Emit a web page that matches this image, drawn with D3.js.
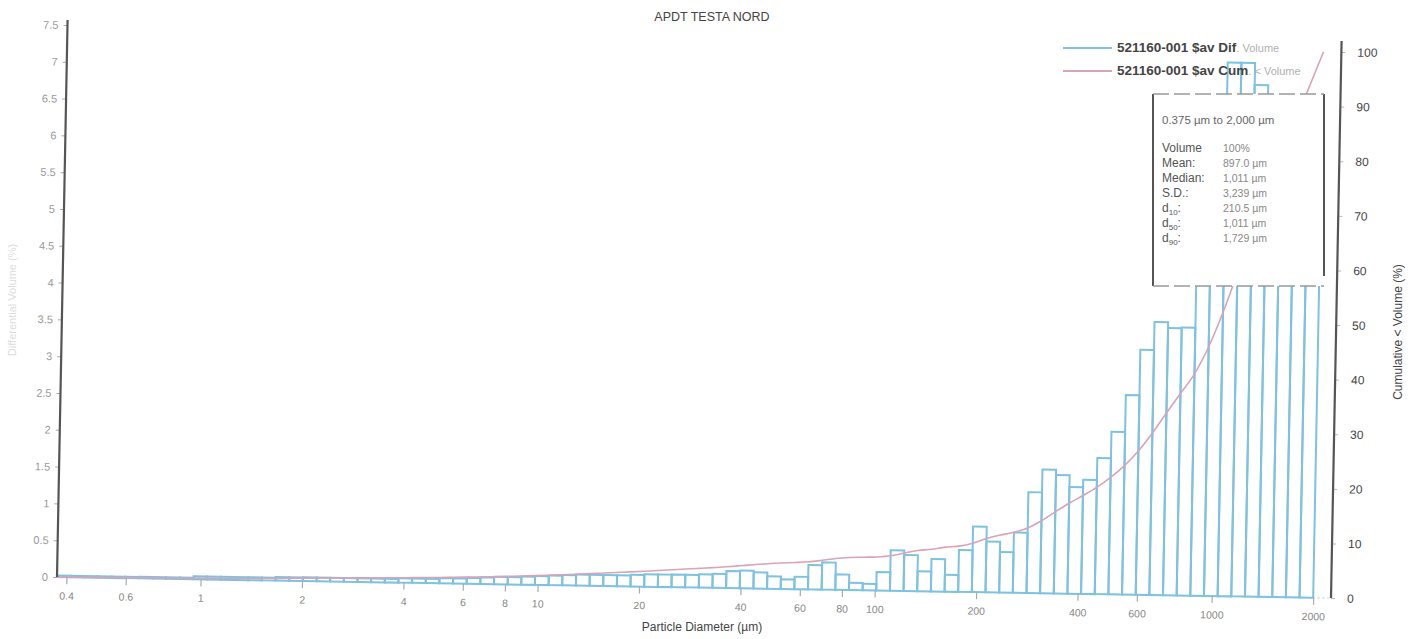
<!DOCTYPE html>
<html>
<head>
<meta charset="utf-8">
<script src="https://cdn.jsdelivr.net/npm/d3@7"></script>
<style>
  body { margin: 0; background: #ffffff; }
  svg { display: block; font-family: "Liberation Sans", Arial, sans-serif; }
</style>
</head>
<body>
<svg id="chart" width="1420" height="639"></svg>
<script>
// Size channels (µm): lower edges of the 92 channels plus the final upper edge
const channelEdges = [
  0.375, 0.412, 0.452, 0.496, 0.545, 0.598, 0.657, 0.721, 0.791, 0.869,
  0.953, 1.047, 1.149, 1.261, 1.385, 1.520, 1.669, 1.832, 2.011, 2.208,
  2.423, 2.660, 2.920, 3.206, 3.519, 3.863, 4.241, 4.656, 5.111, 5.611,
  6.159, 6.761, 7.422, 8.148, 8.944, 9.819, 10.78, 11.83, 12.99, 14.26,
  15.65, 17.18, 18.86, 20.71, 22.73, 24.95, 27.39, 30.07, 33.01, 36.24,
  39.78, 43.67, 47.94, 52.62, 57.77, 63.41, 69.61, 76.42, 83.89, 92.09,
  101.1, 111.0, 121.8, 133.7, 146.8, 161.2, 176.9, 194.2, 213.2, 234.1,
  256.9, 282.1, 309.6, 339.9, 373.1, 409.6, 449.7, 493.6, 541.9, 594.9,
  653.0, 716.8, 786.9, 863.9, 948.3, 1041, 1143, 1255, 1377, 1512,
  1660, 1822, 2000
];

// Differential volume (%) for each channel
const diffVolume = [
  0.02, 0.02, 0.02, 0.02, 0.02, 0.02, 0.02, 0.02, 0.02, 0.02,
  0.04, 0.04, 0.04, 0.04, 0.04, 0.04, 0.05, 0.05, 0.05, 0.05,
  0.05, 0.05, 0.05, 0.05, 0.05, 0.06, 0.06, 0.06, 0.07, 0.07,
  0.08, 0.09, 0.10, 0.10, 0.11, 0.12, 0.13, 0.14, 0.15, 0.15,
  0.15, 0.15, 0.16, 0.17, 0.17, 0.17, 0.17, 0.18, 0.19, 0.23,
  0.24, 0.22, 0.17, 0.13, 0.17, 0.33, 0.37, 0.21, 0.10, 0.09,
  0.25, 0.55, 0.49, 0.27, 0.44, 0.23, 0.57, 0.89, 0.69, 0.55,
  0.82, 1.37, 1.68, 1.61, 1.45, 1.55, 1.85, 2.21, 2.71, 3.33,
  3.71, 3.63, 3.64, 5.00, 6.30, 7.25, 7.25, 6.95, 6.80, 6.70,
  6.60, 6.50
];

const xTickValues = [0.4, 0.6, 1, 2, 4, 6, 8, 10, 20, 40, 60, 80, 100, 200, 400, 600, 1000, 2000];
const xTickLabels = ["0.4", "0.6", "1", "2", "4", "6", "8", "10", "20", "40", "60", "80", "100", "200", "400", "600", "1000", "2000"];
const leftTickValues = [0, 0.5, 1, 1.5, 2, 2.5, 3, 3.5, 4, 4.5, 5, 5.5, 6, 6.5, 7, 7.5];
const rightTickValues = [0, 10, 20, 30, 40, 50, 60, 70, 80, 90, 100];

const chartTitle = "APDT TESTA NORD";
const xTitle = "Particle Diameter (µm)";
const leftTitle = "Differential Volume (%)";
const rightTitle = "Cumulative < Volume (%)";
const legendIds = ["521160-001 $av Dif", "521160-001 $av Cum"];
const legendRest = [". Volume", ". < Volume"];

const statRange = "0.375 µm to 2,000 µm";
const statNames = [["Volume", ""], ["Mean:", ""], ["Median:", ""], ["S.D.:", ""], ["d", "10"], ["d", "50"], ["d", "90"]];
const statValues = ["100%", "897.0 µm", "1,011 µm", "3,239 µm", "210.5 µm", "1,011 µm", "1,729 µm"];

// ---- layout ----
const plot = { left: 57, right: 1331, top: 20, bottom: 577 };
const barColor = "#7dc2de";
const cumColor = "#d9a3b8";
const axisColor = "#555";

const svg = d3.select("#chart");

const x = d3.scaleLog().domain([0.375, 2259]).range([plot.left, plot.right]);
const yL = d3.scaleLinear().domain([0, 7.5]).range([plot.bottom, 25]);
const yR = d3.scaleLinear().domain([0, 100]).range([plot.bottom, 31]);

// the printed sheet sits slightly askew; the plot frame follows it
const frame = svg.append("g")
  .attr("transform", `translate(${plot.left},${plot.bottom}) matrix(1,0.0165,-0.019,1,0,0) translate(${-plot.left},${-plot.bottom})`);

// faint baseline
frame.append("line")
  .attr("x1", plot.left).attr("x2", plot.right)
  .attr("y1", plot.bottom).attr("y2", plot.bottom)
  .attr("stroke", "#dcdcdc").attr("stroke-width", 1.2)
  .attr("stroke-dasharray", "3,2");

// histogram bars
const bins = diffVolume.map((v, i) => ({ lo: channelEdges[i], hi: channelEdges[i + 1], v }));
frame.append("g").selectAll("rect").data(bins).join("rect")
  .attr("x", d => x(d.lo))
  .attr("width", d => x(d.hi) - x(d.lo))
  .attr("y", d => yL(d.v))
  .attr("height", d => plot.bottom - yL(d.v))
  .attr("fill", "none")
  .attr("stroke", barColor)
  .attr("stroke-width", 2);

// cumulative curve, accumulated channel by channel
const cum = Array.from(d3.cumsum(diffVolume));
const cumPts = [[channelEdges[0], 0]].concat(cum.map((c, i) => [channelEdges[i + 1], c]));
frame.append("path")
  .datum(cumPts)
  .attr("fill", "none")
  .attr("stroke", cumColor)
  .attr("stroke-width", 1.6)
  .attr("d", d3.line().x(d => x(d[0])).y(d => yR(d[1])).curve(d3.curveMonotoneX));

// x axis ticks & labels
const xAxis = d3.axisBottom(x).tickValues(xTickValues)
  .tickFormat((d, i) => xTickLabels[i]).tickSizeInner(7).tickSizeOuter(0).tickPadding(8);
const gx = frame.append("g").attr("transform", `translate(0,${plot.bottom})`).call(xAxis);
gx.select(".domain").remove();
gx.selectAll(".tick line").attr("stroke", "#aaa").attr("stroke-width", 1.2);
gx.selectAll(".tick text").attr("fill", "#888").attr("font-size", 10.5);

// left axis
const leftAxis = d3.axisLeft(yL).tickValues(leftTickValues)
  .tickFormat(d3.format("~g")).tickSizeInner(4).tickSizeOuter(0).tickPadding(5);
const gl = frame.append("g").attr("transform", `translate(${plot.left},0)`).call(leftAxis);
gl.select(".domain").remove();
gl.selectAll(".tick line").attr("stroke", "#aaa");
gl.selectAll(".tick text").attr("fill", "#999").attr("font-size", 11);
frame.append("line")
  .attr("x1", plot.left).attr("x2", plot.left)
  .attr("y1", plot.top).attr("y2", plot.bottom)
  .attr("stroke", axisColor).attr("stroke-width", 2.2);

// right axis
const rightAxis = d3.axisRight(yR).tickValues(rightTickValues)
  .tickFormat(d3.format("d")).tickSizeInner(4).tickSizeOuter(0).tickPadding(12);
const gr = frame.append("g").attr("transform", `translate(${plot.right},0)`).call(rightAxis);
gr.select(".domain").remove();
gr.selectAll(".tick line").attr("stroke", "#bbb");
gr.selectAll(".tick text").attr("fill", "#444").attr("font-size", 12);
frame.append("line")
  .attr("x1", plot.right).attr("x2", plot.right)
  .attr("y1", plot.top).attr("y2", plot.bottom)
  .attr("stroke", axisColor).attr("stroke-width", 2.2);

// statistics panel
const box = { x: 1153, y: 94, w: 171, h: 192 };
svg.append("rect")
  .attr("x", box.x).attr("y", box.y).attr("width", box.w).attr("height", box.h)
  .attr("fill", "#fff").attr("stroke", "none");
svg.append("line").attr("x1", box.x).attr("x2", box.x).attr("y1", box.y).attr("y2", box.y + box.h)
  .attr("stroke", axisColor).attr("stroke-width", 2);
svg.append("line").attr("x1", box.x + box.w).attr("x2", box.x + box.w).attr("y1", box.y).attr("y2", box.y + box.h - 10)
  .attr("stroke", axisColor).attr("stroke-width", 2);
[box.y, box.y + box.h].forEach(yy => {
  svg.append("line").attr("x1", box.x).attr("x2", box.x + box.w).attr("y1", yy).attr("y2", yy)
    .attr("stroke", "#999").attr("stroke-width", 1.4).attr("stroke-dasharray", "16,5");
});
svg.append("text").attr("x", box.x + 9).attr("y", box.y + 30)
  .attr("font-size", 11.5).attr("fill", "#666").text(statRange);
const rowY0 = box.y + 58, rowStep = 15;
statNames.forEach((nm, i) => {
  const t = svg.append("text").attr("x", box.x + 9).attr("y", rowY0 + i * rowStep)
    .attr("font-size", 12).attr("fill", "#555");
  t.append("tspan").text(nm[0]);
  if (nm[1]) {
    t.append("tspan").attr("font-size", 8).attr("dy", 3).text(nm[1]);
    t.append("tspan").attr("dy", -3).text(":");
  }
  svg.append("text").attr("x", box.x + 70).attr("y", rowY0 + i * rowStep)
    .attr("font-size", 10.5).attr("fill", "#888").text(statValues[i]);
});

// legend
const legendColors = [barColor, cumColor];
legendIds.forEach((lab, i) => {
  const yy = 48 + i * 23;
  svg.append("line").attr("x1", 1063).attr("x2", 1112).attr("y1", yy).attr("y2", yy)
    .attr("stroke", legendColors[i]).attr("stroke-width", 2.2);
  const t = svg.append("text").attr("x", 1117).attr("y", yy + 4).attr("font-size", 13.5)
    .attr("font-weight", "bold");
  t.append("tspan").attr("fill", "#444").text(lab);
  t.append("tspan").attr("fill", "#b0b0b0").attr("font-weight", "normal").attr("font-size", 11).text(legendRest[i]);
});

// titles
svg.append("text").attr("x", 712).attr("y", 21).attr("text-anchor", "middle")
  .attr("font-size", 12.5).attr("fill", "#444").text(chartTitle);
svg.append("text").attr("x", 702).attr("y", 631).attr("text-anchor", "middle")
  .attr("font-size", 12).attr("fill", "#444").text(xTitle);
svg.append("text").attr("transform", "translate(1402,332) rotate(-90)").attr("text-anchor", "middle")
  .attr("font-size", 12).attr("fill", "#444").text(rightTitle);
svg.append("text").attr("transform", "translate(16,300) rotate(-90)").attr("text-anchor", "middle")
  .attr("font-size", 11).attr("fill", "#ddd").text(leftTitle);
</script>
</body>
</html>
